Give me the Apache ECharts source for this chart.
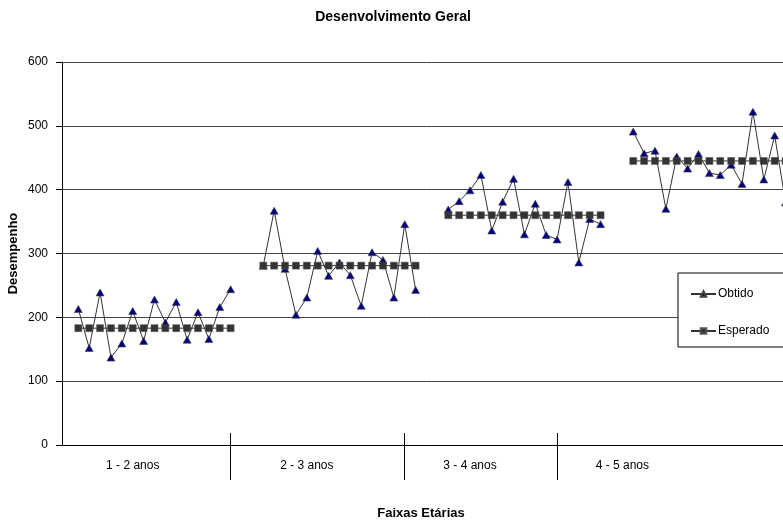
<!DOCTYPE html>
<html>
<head>
<meta charset="utf-8">
<script src="https://cdn.jsdelivr.net/npm/echarts@6/dist/echarts.min.js"></script>
<style>
  html, body { margin: 0; padding: 0; background: #fff; overflow: hidden; }
  /* the plot runs a little past the right edge of the window */
  #chart { width: 791px; height: 521px; }
</style>
</head>
<body>
<div id="chart"></div>
<script>
// Age bands shown under the category axis
const ageGroups = ['1 - 2 anos', '2 - 3 anos', '3 - 4 anos', '4 - 5 anos'];

// Observed scores ("Obtido"), one list per age band
const obtido1 = [213, 152, 239, 137, 159, 210, 163, 228, 192, 224, 165, 208, 166, 216, 244];
const obtido2 = [281, 367, 276, 204, 231, 304, 265, 286, 266, 218, 302, 290, 231, 346, 243];
const obtido3 = [369, 382, 399, 423, 336, 381, 417, 330, 378, 329, 322, 412, 286, 354, 346];
const obtido4 = [491, 457, 461, 370, 452, 433, 456, 426, 423, 439, 409, 522, 416, 485, 380];

// Expected score ("Esperado") for each age band
const esperado = [183, 281, 360, 445];

// Category slots: one empty slot before the first band, two between bands
const leadSlots = 1;
const gapSlots = 2;
// Slots that carry the band names and the separator ticks
const groupLabelSlots = [6, 22, 37, 51];
const separatorSlots = [15, 31, 45];

const obtidoGroups = [obtido1, obtido2, obtido3, obtido4];

// Build the flat category axis and both series (null leaves a break)
const obtidoData = [];
const esperadoData = [];
for (let i = 0; i < leadSlots; i++) { obtidoData.push(null); esperadoData.push(null); }
obtidoGroups.forEach((grp, g) => {
  if (g > 0) {
    for (let i = 0; i < gapSlots; i++) { obtidoData.push(null); esperadoData.push(null); }
  }
  grp.forEach(v => { obtidoData.push(v); esperadoData.push(esperado[g]); });
});
const categories = obtidoData.map((_, i) => {
  const k = groupLabelSlots.indexOf(i);
  return k >= 0 ? ageGroups[k] : '';
});

const FONT = '"Liberation Sans", Arial, sans-serif';
const isSeparator = (index) => separatorSlots.indexOf(index) >= 0;

const chart = echarts.init(document.getElementById('chart'), null, { renderer: 'canvas' });
chart.setOption({
  animation: false,
  backgroundColor: '#fff',
  title: [
    {
      text: 'Desenvolvimento Geral',
      left: 388,
      textAlign: 'center',
      top: 5,
      textStyle: { fontFamily: FONT, fontSize: 14, fontWeight: 'bold', color: '#000' }
    },
    {
      text: 'Faixas Etárias',
      left: 416,
      textAlign: 'center',
      top: 502,
      textStyle: { fontFamily: FONT, fontSize: 13, fontWeight: 'bold', color: '#000' }
    }
  ],
  legend: {
    data: ['Obtido', 'Esperado'],
    orient: 'vertical',
    left: 678,
    top: 273,
    padding: [15, 40, 10, 12],
    itemGap: 25,
    itemWidth: 25,
    itemHeight: 7,
    backgroundColor: '#fff',
    borderColor: '#000',
    borderWidth: 1,
    textStyle: { fontFamily: FONT, fontSize: 12, color: '#000', padding: [0, 0, 0, -3] }
  },
  grid: {
    left: 62, top: 62, right: 0, bottom: 76,
    containLabel: false,
    outerBoundsMode: 'none'
  },
  xAxis: [
    {
      type: 'category',
      data: categories,
      boundaryGap: true,
      position: 'bottom',
      axisLine: { show: true, lineStyle: { color: '#000', width: 1 } },
      axisTick: {
        show: true,
        alignWithLabel: true,
        interval: (index) => isSeparator(index),
        length: 35,
        lineStyle: { color: '#000', width: 1 }
      },
      axisLabel: {
        show: true,
        interval: (index) => groupLabelSlots.indexOf(index) >= 0,
        margin: 15,
        fontFamily: FONT,
        fontSize: 12,
        color: '#000'
      },
      splitLine: { show: false }
    },
    {
      type: 'category',
      data: categories,
      boundaryGap: true,
      position: 'bottom',
      axisLine: { show: false },
      axisTick: {
        show: true,
        inside: true,
        alignWithLabel: true,
        interval: (index) => isSeparator(index),
        length: 12,
        lineStyle: { color: '#000', width: 1 }
      },
      axisLabel: { show: false },
      splitLine: { show: false }
    }
  ],
  yAxis: {
    type: 'value',
    min: 0,
    max: 600,
    interval: 100,
    name: 'Desempenho',
    nameLocation: 'middle',
    nameGap: 42,
    nameMoveOverlap: false,
    nameTextStyle: { fontFamily: FONT, fontSize: 13, fontWeight: 'bold', color: '#000' },
    axisLine: { show: true, lineStyle: { color: '#000', width: 1 } },
    axisTick: { show: true, length: 6, lineStyle: { color: '#000' } },
    axisLabel: { margin: 14, fontFamily: FONT, fontSize: 12, color: '#000' },
    splitLine: { show: true, lineStyle: { color: '#444', width: 1 } }
  },
  series: [
    {
      name: 'Obtido',
      type: 'line',
      data: obtidoData,
      connectNulls: false,
      symbol: 'triangle',
      symbolSize: [8, 7],
      showAllSymbol: true,
      lineStyle: { color: '#333', width: 1 },
      itemStyle: { color: '#000080', borderColor: '#444', borderWidth: 0.6 },
      z: 2
    },
    {
      name: 'Esperado',
      type: 'line',
      data: esperadoData,
      connectNulls: false,
      symbol: 'rect',
      symbolSize: 7,
      showAllSymbol: true,
      lineStyle: { color: '#333', width: 1 },
      itemStyle: { color: '#333', borderColor: '#555', borderWidth: 0.5 },
      z: 3
    }
  ]
});
</script>
</body>
</html>
